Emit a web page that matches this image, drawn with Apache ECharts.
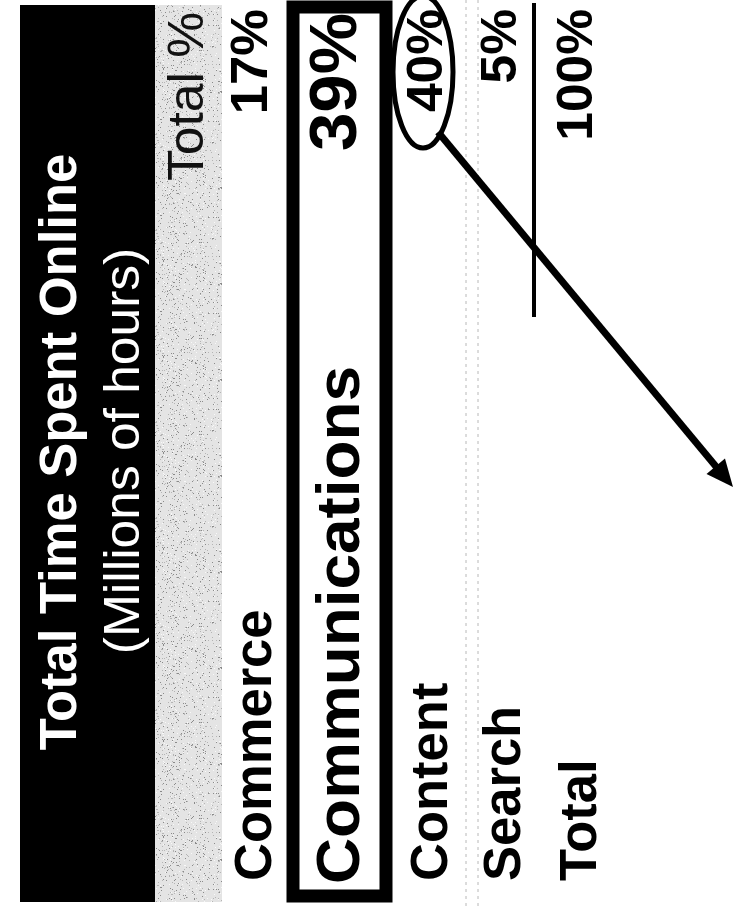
<!DOCTYPE html>
<html>
<head>
<meta charset="utf-8">
<script src="https://cdn.jsdelivr.net/npm/echarts@6/dist/echarts.min.js"></script>
<style>
  html, body { margin: 0; padding: 0; background: #ffffff; }
  #chart { width: 735px; height: 906px; }
</style>
</head>
<body>
<div id="chart"></div>
<script>
// Table content
const title = 'Total Time Spent Online';
const subtitle = '(Millions of hours)';
const shareHeader = 'Total %';
const categories = ['Commerce', 'Communications', 'Content', 'Search', 'Total'];
const shares = [17, 39, 40, 5, 100];
const highlighted = 'Communications';   // boxed row
const circled = 'Content';              // ringed share with pointer
const totalRow = 'Total';               // row under the summing rule

// Page layout (the table is set sideways, reading bottom to top)
const FONT = '"Liberation Sans", Arial, Helvetica, sans-serif';
const labelBaseX = [273, 361, 449, 522, 598];
const shareBaseX = [269, 358, 444, 518, 594];
const labelSize = [51, 62, 51, 51, 51];
const shareSize = [51, 67, 50, 50, 50];
const labelStartY = 881;
const shareEndY = 9;
const UP = Math.PI / 2;
const STRETCH = 1.03;   // slightly wider face along the reading direction

// centre of the em box sits ~0.31em above the baseline for this face
function midX(baseX, size) { return baseX - 0.31 * size; }

function vText(text, x, y, size, opts) {
  return {
    type: 'text',
    x: x, y: y,
    rotation: UP,
    scaleX: STRETCH,
    z: opts.z || 10,
    style: {
      text: text,
      fontFamily: FONT,
      fontSize: size,
      fontWeight: opts.weight || 'bold',
      fill: opts.fill || '#000',
      align: opts.align || 'left',
      verticalAlign: 'middle'
    }
  };
}

// light halftone screen used for the header band
function screenTexture() {
  const c = document.createElement('canvas');
  c.width = 96; c.height = 96;
  const g = c.getContext('2d');
  g.fillStyle = '#e4e4e4';
  g.fillRect(0, 0, 96, 96);
  let s = 12345;
  const next = () => { s = (s * 1103515245 + 12345) & 0x7fffffff; return s / 0x7fffffff; };
  for (let i = 0; i < 900; i++) {
    const px = Math.floor(next() * 96), py = Math.floor(next() * 96);
    const v = next();
    g.fillStyle = v < 0.35 ? '#8a8a8a' : (v < 0.7 ? '#b5b5b5' : '#f8f8f8');
    g.fillRect(px, py, 1, 1);
  }
  return c;
}

const elements = [];

// header bands
elements.push({ type: 'rect', shape: { x: 20, y: 5, width: 135, height: 897 }, style: { fill: '#000' }, z: 1 });
elements.push({ type: 'rect', shape: { x: 155, y: 5, width: 67, height: 897 },
  style: { fill: { image: screenTexture(), repeat: 'repeat' } }, z: 1 });

// header texts
elements.push(vText(title, midX(78, 51), 452, 51, { fill: '#fff', align: 'center' }));
elements.push(vText(subtitle, midX(141, 50), 451, 50, { fill: '#fff', align: 'center', weight: 'normal' }));
elements.push(vText(shareHeader, midX(205, 50), shareEndY + 3, 50, { fill: '#111', align: 'right', weight: 'normal' }));

// faint column guides
[466, 478].forEach(function (gx) {
  elements.push({ type: 'line', shape: { x1: gx, y1: 0, x2: gx, y2: 906 },
    style: { stroke: '#b8b8b8', lineWidth: 1, lineDash: [3, 4] }, z: 2 });
});

// rows
categories.forEach(function (name, i) {
  const startY = name === highlighted ? labelStartY + 3 : labelStartY;
  const endY = name === highlighted ? shareEndY + 4 : shareEndY;
  elements.push(vText(name, midX(labelBaseX[i], labelSize[i]), startY, labelSize[i], {}));
  elements.push(vText(shares[i] + '%', midX(shareBaseX[i], shareSize[i]), endY, shareSize[i], { align: 'right' }));
});

// box around the highlighted row
elements.push({ type: 'rect', shape: { x: 293, y: 7, width: 93, height: 889 },
  style: { fill: 'none', stroke: '#000', lineWidth: 13 }, z: 5 });

// summing rule above the total
elements.push({ type: 'line', shape: { x1: 534, y1: 3, x2: 534, y2: 317 },
  style: { stroke: '#000', lineWidth: 4 }, z: 5 });

// ring around the circled share
elements.push({ type: 'ellipse', shape: { cx: 423, cy: 72, rx: 30, ry: 76 },
  style: { fill: 'none', stroke: '#000', lineWidth: 5 }, z: 6 });

// pointer from the ring
const p0 = [438, 132], tip = [733, 487];
const dx = tip[0] - p0[0], dy = tip[1] - p0[1];
const len = Math.sqrt(dx * dx + dy * dy);
const ux = dx / len, uy = dy / len;
const headLen = 27, headHalf = 12;
const base = [tip[0] - ux * headLen, tip[1] - uy * headLen];
elements.push({ type: 'line', shape: { x1: p0[0], y1: p0[1], x2: base[0] + ux * 2, y2: base[1] + uy * 2 },
  style: { stroke: '#000', lineWidth: 7 }, z: 6 });
elements.push({ type: 'polygon', shape: { points: [
  tip,
  [base[0] - uy * headHalf, base[1] + ux * headHalf],
  [base[0] + uy * headHalf, base[1] - ux * headHalf]
] }, style: { fill: '#000' }, z: 6 });

const chart = echarts.init(document.getElementById('chart'), null, { renderer: 'canvas' });
chart.setOption({
  backgroundColor: '#ffffff',
  animation: false,
  graphic: { elements: elements }
});
</script>
</body>
</html>
